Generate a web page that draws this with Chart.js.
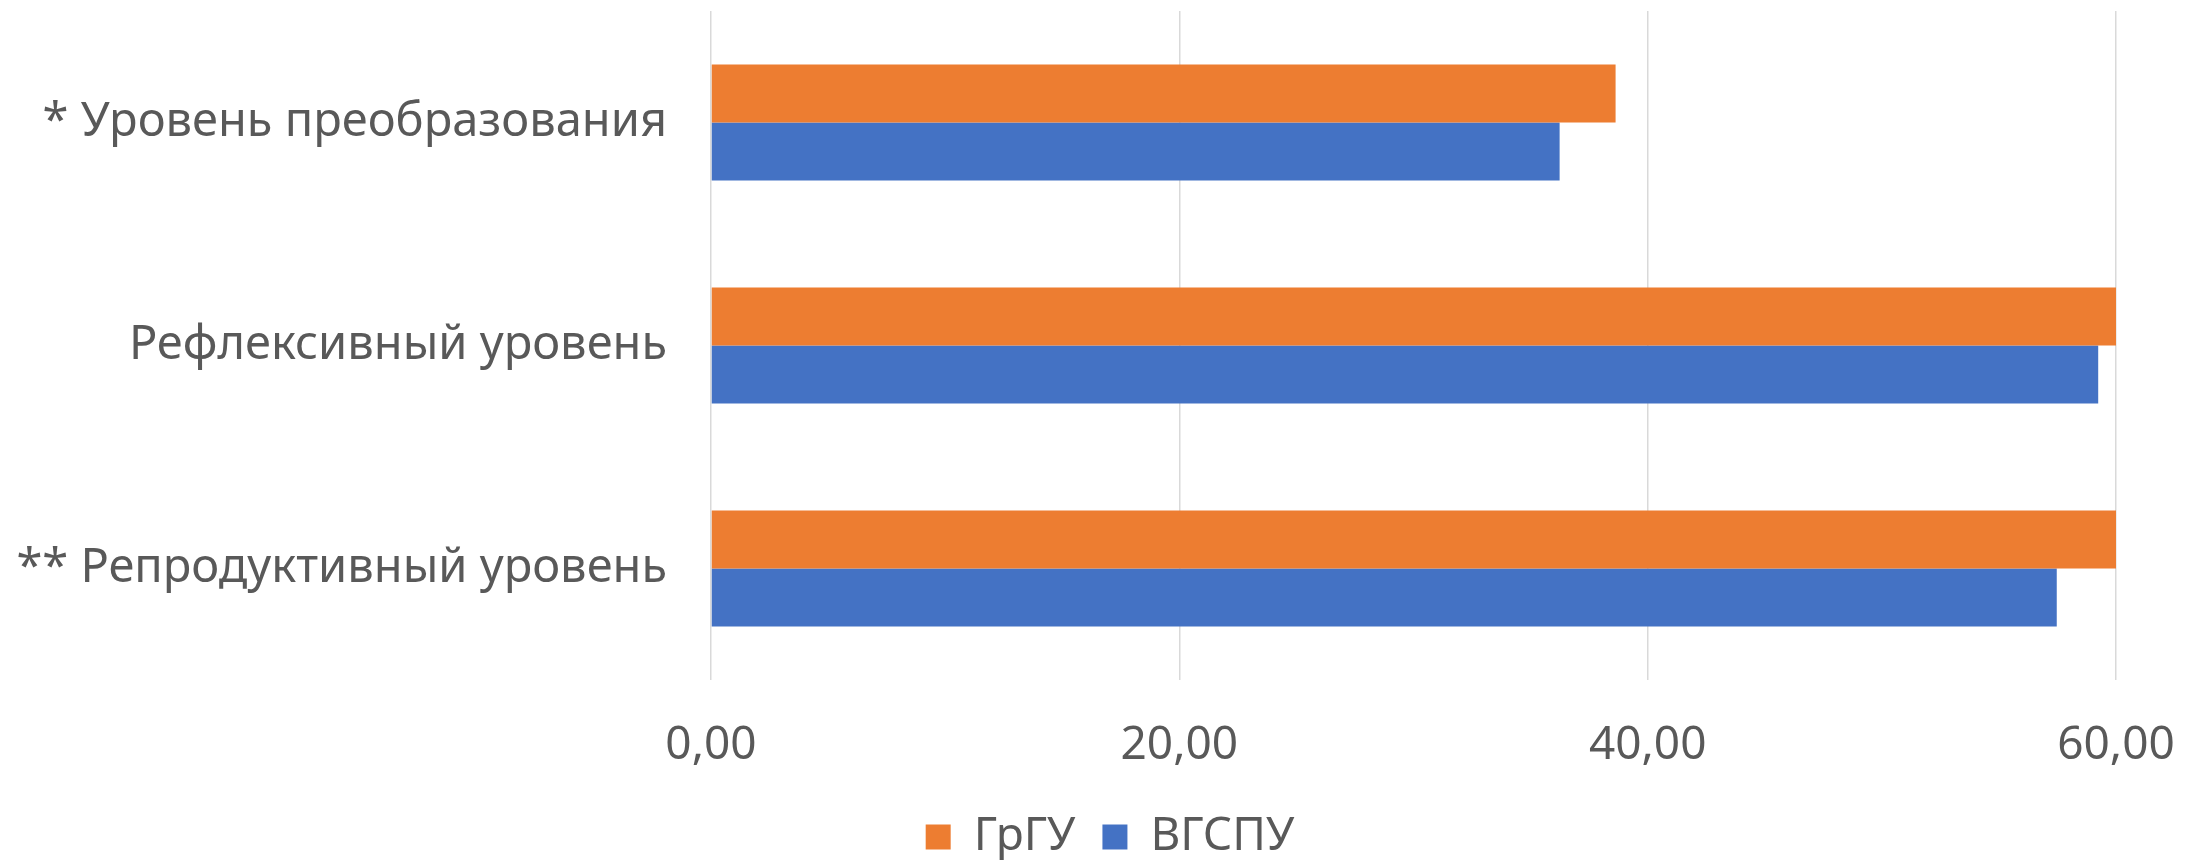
<!DOCTYPE html>
<html>
<head>
<meta charset="utf-8">
<script src="https://cdn.jsdelivr.net/npm/chart.js@4.4.0/dist/chart.umd.min.js"></script>
<style>
  html, body { margin: 0; padding: 0; background: #fff; }
  #wrap { width: 2203px; height: 860px; }
</style>
</head>
<body>
<div id="wrap"><canvas id="myChart"></canvas></div>
<script>
// categories, top to bottom
const categories = [
  '* Уровень преобразования',
  'Рефлексивный уровень',
  '** Репродуктивный уровень'
];
// series values
const grguValues = [38.63, 60.0, 60.0];
const vgspuValues = [36.24, 59.24, 57.47];
const seriesNames = ['ГрГУ', 'ВГСПУ'];
const xTicks = [0, 20, 40, 60];

const textColor = '#595959';
const fontFamily = '"Noto Sans", "Open Sans", sans-serif';

Chart.defaults.color = textColor;
Chart.defaults.font.family = fontFamily;

// the original legend sits a little right of the canvas centre
const legendShift = {
  id: 'legendShift',
  afterLayout(chart) {
    chart.legend.left += 47;
    chart.legend.right += 47;
  },
};

new Chart('myChart', {
  type: 'bar',
  data: {
    labels: categories,
    datasets: [
      {
        label: seriesNames[0],
        data: grguValues,
        backgroundColor: '#ED7D31',
        categoryPercentage: 0.52,
        barPercentage: 1.0,
      },
      {
        label: seriesNames[1],
        data: vgspuValues,
        backgroundColor: '#4472C4',
        categoryPercentage: 0.52,
        barPercentage: 1.0,
      },
    ],
  },
  options: {
    indexAxis: 'y',
    responsive: true,
    maintainAspectRatio: false,
    animation: false,
    layout: { padding: { top: 11, left: 10, right: 87, bottom: -10 } },
    scales: {
      x: {
        min: 0,
        max: 60,
        afterBuildTicks: (scale) => {
          scale.ticks = xTicks.map((v) => ({ value: v }));
        },
        afterFit: (scale) => {
          scale.height = 107;
          scale.paddingLeft = 0;
          scale.paddingRight = 0;
        },
        ticks: {
          font: { size: 46 },
          padding: 38,
          callback: (v) => Number(v).toFixed(2).replace('.', ','),
        },
        grid: { color: '#D9D9D9', lineWidth: 1.5, drawTicks: false },
        border: { display: false },
      },
      y: {
        afterFit: (scale) => {
          // keep the label gap but stop it from pushing the plot down
          scale.width = 701;
          scale.paddingTop = 0;
          scale.paddingBottom = 0;
        },
        ticks: { font: { size: 47 }, padding: 44 },
        grid: { display: false, drawTicks: false },
        border: { display: false },
      },
    },
    plugins: {
      legend: {
        position: 'bottom',
        labels: {
          font: { size: 46 },
          boxWidth: 25,
          boxHeight: 25,
          padding: 27,
        },
      },
      tooltip: { enabled: false },
    },
  },
  plugins: [legendShift],
});
</script>
</body>
</html>
